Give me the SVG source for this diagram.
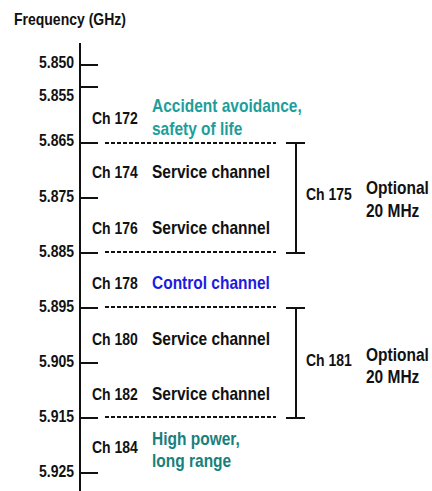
<svg xmlns="http://www.w3.org/2000/svg" width="432" height="491" viewBox="0 0 432 491">
  <style>
    text { font-family: "Liberation Sans", Arial, sans-serif; font-weight: bold; fill: #111; }
    .title { font-size: 14px; }
    .tick-label { font-size: 14px; text-anchor: end; }
    .ch { font-size: 14px; }
    .desc { font-size: 15.5px; }
    .teal { fill: #1d9e9a; }
    .teal-dark { fill: #17807c; }
    .blue { fill: #1c1ce0; }
    .axis { stroke: #111; stroke-width: 2; fill: none; }
    .sep { stroke: #111; stroke-width: 2; stroke-dasharray: 4 2; fill: none; }
    .bracket { stroke: #111; stroke-width: 2; fill: none; }
  </style>

  <!-- axis title -->
  <text class="title" transform="translate(14 25) scale(1 1.2)">Frequency (GHz)</text>

  <!-- frequency axis with ticks -->
  <g id="axis">
    <line class="axis" x1="80" y1="43" x2="80" y2="491"/>
    <line class="axis" x1="80" y1="65" x2="98" y2="65"/>
    <line class="axis" x1="80" y1="87" x2="98" y2="87"/>
    <line class="axis" x1="80" y1="143" x2="98" y2="143"/>
    <line class="axis" x1="80" y1="198" x2="98" y2="198"/>
    <line class="axis" x1="80" y1="253" x2="98" y2="253"/>
    <line class="axis" x1="80" y1="308" x2="98" y2="308"/>
    <line class="axis" x1="80" y1="363" x2="98" y2="363"/>
    <line class="axis" x1="80" y1="418" x2="98" y2="418"/>
    <line class="axis" x1="80" y1="473" x2="98" y2="473"/>
  </g>

  <!-- tick labels -->
  <g id="tick-labels">
    <text class="tick-label" transform="translate(74 68) scale(1 1.2)">5.850</text>
    <text class="tick-label" transform="translate(74 101) scale(1 1.2)">5.855</text>
    <text class="tick-label" transform="translate(74 146) scale(1 1.2)">5.865</text>
    <text class="tick-label" transform="translate(74 202) scale(1 1.2)">5.875</text>
    <text class="tick-label" transform="translate(74 257) scale(1 1.2)">5.885</text>
    <text class="tick-label" transform="translate(74 312) scale(1 1.2)">5.895</text>
    <text class="tick-label" transform="translate(74 367) scale(1 1.2)">5.905</text>
    <text class="tick-label" transform="translate(74 422) scale(1 1.2)">5.915</text>
    <text class="tick-label" transform="translate(74 477) scale(1 1.2)">5.925</text>
  </g>

  <!-- channel boundaries and 20 MHz brackets -->
  <g id="connectors">
    <line class="sep" x1="105" y1="143" x2="276" y2="143"/>
    <line class="sep" x1="105" y1="252" x2="276" y2="252"/>
    <line class="sep" x1="105" y1="307" x2="276" y2="307"/>
    <line class="sep" x1="105" y1="417" x2="276" y2="417"/>
    <path class="bracket" d="M286 143H305M296 143V253M286 253H305"/>
    <path class="bracket" d="M286 308H305M296 308V418M286 418H305"/>
  </g>

  <g id="ch172">
    <text class="ch" transform="translate(92 124) scale(1 1.2)">Ch 172</text>
    <text class="desc teal" transform="translate(152 112) scale(1 1.2)">Accident avoidance,</text>
    <text class="desc teal" transform="translate(152 135) scale(1 1.2)">safety of life</text>
  </g>
  <g id="ch174">
    <text class="ch" transform="translate(92 178) scale(1 1.2)">Ch 174</text>
    <text class="desc" transform="translate(152 178) scale(1 1.2)">Service channel</text>
  </g>
  <g id="ch176">
    <text class="ch" transform="translate(92 234) scale(1 1.2)">Ch 176</text>
    <text class="desc" transform="translate(152 234) scale(1 1.2)">Service channel</text>
  </g>
  <g id="ch178">
    <text class="ch" transform="translate(92 289) scale(1 1.2)">Ch 178</text>
    <text class="desc blue" transform="translate(152 289) scale(1 1.2)">Control channel</text>
  </g>
  <g id="ch180">
    <text class="ch" transform="translate(92 345) scale(1 1.2)">Ch 180</text>
    <text class="desc" transform="translate(152 345) scale(1 1.2)">Service channel</text>
  </g>
  <g id="ch182">
    <text class="ch" transform="translate(92 400) scale(1 1.2)">Ch 182</text>
    <text class="desc" transform="translate(152 400) scale(1 1.2)">Service channel</text>
  </g>
  <g id="ch184">
    <text class="ch" transform="translate(92 453) scale(1 1.2)">Ch 184</text>
    <text class="desc teal-dark" transform="translate(152 445) scale(1 1.2)">High power,</text>
    <text class="desc teal-dark" transform="translate(152 467) scale(1 1.2)">long range</text>
  </g>

  <g id="ch175">
    <text class="ch" transform="translate(306 200) scale(1 1.2)">Ch 175</text>
    <text class="desc" transform="translate(366 194) scale(1 1.2)">Optional</text>
    <text class="desc" transform="translate(366 217) scale(1 1.2)">20 MHz</text>
  </g>
  <g id="ch181">
    <text class="ch" transform="translate(306 366) scale(1 1.2)">Ch 181</text>
    <text class="desc" transform="translate(366 361) scale(1 1.2)">Optional</text>
    <text class="desc" transform="translate(366 383) scale(1 1.2)">20 MHz</text>
  </g>
</svg>
